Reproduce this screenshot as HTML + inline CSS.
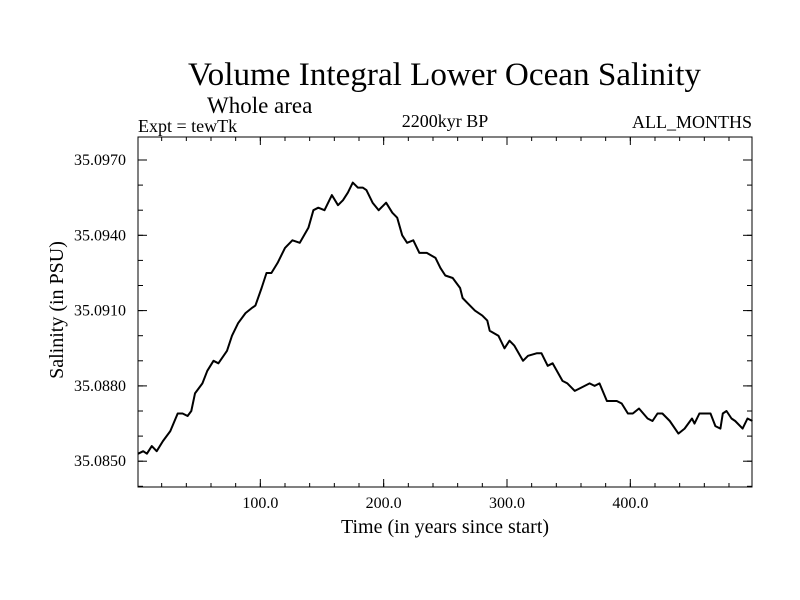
<!DOCTYPE html>
<html><head><meta charset="utf-8"><style>
body{margin:0;background:#fff}
svg{display:block;font-family:"Liberation Serif",serif}
</style></head><body>
<svg width="800" height="600" viewBox="0 0 800 600">
<text x="188" y="85" font-size="33" textLength="513" lengthAdjust="spacingAndGlyphs">Volume Integral Lower Ocean Salinity</text>
<text x="207" y="113" font-size="23">Whole area</text>
<text x="138" y="132" font-size="18">Expt = tewTk</text>
<text x="445" y="127" font-size="18" text-anchor="middle">2200kyr BP</text>
<text x="752" y="128" font-size="18" text-anchor="end">ALL_MONTHS</text>
<rect x="138" y="137" width="614" height="350" fill="none" stroke="#000" stroke-width="1"/>
<g id="axes"></g>
<path id="line" fill="none" stroke="#000" stroke-width="2" stroke-linejoin="round"/>
<text x="445" y="533" font-size="20" text-anchor="middle">Time (in years since start)</text>
<text transform="translate(63,310) rotate(-90)" font-size="20" text-anchor="middle">Salinity (in PSU)</text>
</svg>
<script>
const years=[1,5,8,12,16,21,27,33,37,41,44,47,53,57,62,66,73,77,82,88,93,96,101,105,109,114,120,126,132,139,143,147,152,158,163,167,171,175,179,183,186,191,196,202,207,211,215,219,224,229,235,242,246,250,256,262,264,268,274,280,284,286,293,298,302,306,313,317,324,328,333,337,345,349,355,359,367,371,375,381,389,393,398,402,407,414,418,422,426,432,439,444,450,452,456,465,469,473,475,478,482,485,491,495,499];
const salinity=[35.0853,35.0854,35.0853,35.0856,35.0854,35.0858,35.0862,35.0869,35.0869,35.0868,35.0870,35.0877,35.0881,35.0886,35.0890,35.0889,35.0894,35.0900,35.0905,35.0909,35.0911,35.0912,35.0919,35.0925,35.0925,35.0929,35.0935,35.0938,35.0937,35.0943,35.0950,35.0951,35.0950,35.0956,35.0952,35.0954,35.0957,35.0961,35.0959,35.0959,35.0958,35.0953,35.0950,35.0953,35.0949,35.0947,35.0940,35.0937,35.0938,35.0933,35.0933,35.0931,35.0927,35.0924,35.0923,35.0919,35.0915,35.0913,35.0910,35.0908,35.0906,35.0902,35.0900,35.0895,35.0898,35.0896,35.0890,35.0892,35.0893,35.0893,35.0888,35.0889,35.0882,35.0881,35.0878,35.0879,35.0881,35.0880,35.0881,35.0874,35.0874,35.0873,35.0869,35.0869,35.0871,35.0867,35.0866,35.0869,35.0869,35.0866,35.0861,35.0863,35.0867,35.0865,35.0869,35.0869,35.0864,35.0863,35.0869,35.0870,35.0867,35.0866,35.0863,35.0867,35.0866];
const yTickValues=[35.085,35.088,35.091,35.094,35.097];
const yTickLabels=["35.0850","35.0880","35.0910","35.0940","35.0970"];
const xTickValues=[100,200,300,400];
const xTickLabels=["100.0","200.0","300.0","400.0"];
const L=138,R=752,T=137,B=487;
function xs(v){return 137+v*1.2333;}
function ys(v){return 160+(35.097-v)*25100;}
const NS="http://www.w3.org/2000/svg";
const g=document.getElementById('axes');
function ln(x1,y1,x2,y2,name){const e=document.createElementNS(NS,'line');e.setAttribute('x1',x1);e.setAttribute('y1',y1);e.setAttribute('x2',x2);e.setAttribute('y2',y2);e.setAttribute('stroke','#000');e.setAttribute('stroke-width','1');


g.appendChild(e);}
function tx(x,y,s,anchor,name){const e=document.createElementNS(NS,'text');e.setAttribute('x',x);e.setAttribute('y',y);e.setAttribute('font-size','16');e.setAttribute('text-anchor',anchor);e.textContent=s;


g.appendChild(e);}
for(let v=35.084;v<=35.0985;v+=0.001){const y=ys(v);if(y<T||y>B)continue;ln(L,y,L+5,y,'y-minor-tick');ln(R-5,y,R,y,'y-minor-tick');}
yTickValues.forEach((v,i)=>{const y=ys(v);ln(L,y,L+9,y,'y-major-tick');ln(R-9,y,R,y,'y-major-tick');tx(L-12,y+5,yTickLabels[i],'end','y-tick-label');});
for(let v=20;v<500;v+=20){const x=xs(v);ln(x,B,x,B-4,'x-minor-tick');ln(x,T,x,T+4,'x-minor-tick');}
xTickValues.forEach((v,i)=>{const x=xs(v);ln(x,B,x,B-8,'x-major-tick');ln(x,T,x,T+8,'x-major-tick');tx(x,508,xTickLabels[i],'middle','x-tick-label');});
document.getElementById('line').setAttribute('d',years.map((yr,i)=>(i?'L':'M')+xs(yr).toFixed(1)+' '+ys(salinity[i]).toFixed(1)).join(' '));
</script>
</body></html>
